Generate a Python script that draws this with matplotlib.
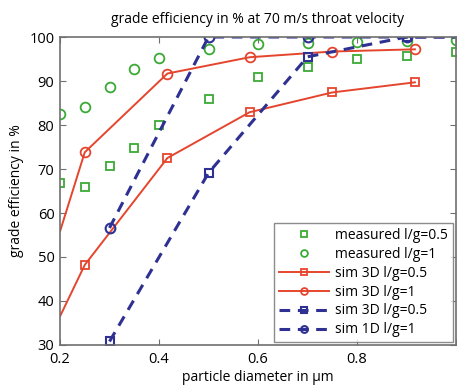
import matplotlib
matplotlib.use("Agg")
import matplotlib.pyplot as plt

plt.rcParams['font.family'] = ['Open Sans', 'DejaVu Sans']

# measured data
x_meas = [0.2, 0.25, 0.3, 0.35, 0.4, 0.5, 0.6, 0.7, 0.8, 0.9, 1.0]
meas_lg05 = [66.8, 65.8, 70.6, 74.8, 79.9, 85.9, 90.8, 93.1, 94.9, 95.6, 96.6]
meas_lg1 = [82.6, 84.0, 88.7, 92.8, 95.2, 97.2, 98.3, 98.7, 98.8, 99.2, 99.3]

# sim 3D (first point is the value where the line enters the axes at x=0.2)
x_sim3d = [0.2, 0.25, 0.417, 0.583, 0.75, 0.917]
sim3d_lg05 = [36.5, 48.2, 72.5, 82.9, 87.4, 89.7]
sim3d_lg1 = [55.8, 73.8, 91.7, 95.4, 96.7, 97.2]

# dashed simulations (last point is where the line leaves the axes at x=1.0)
x_dash = [0.3, 0.5, 0.7, 0.9, 1.0]
dash_lg05 = [30.8, 69.1, 95.5, 100.0, 100.0]
dash_lg1 = [56.6, 100.0, 100.0, 100.0, 100.0]

labels = ['measured l/g=0.5', 'measured l/g=1', 'sim 3D l/g=0.5',
          'sim 3D l/g=1', 'sim 3D l/g=0.5', 'sim 1D l/g=1']

green = '#3aaa35'
red = '#e5452d'
blue = '#2e3192'

fig = plt.figure(figsize=(4.57, 3.9), dpi=100)
ax = fig.add_axes([60/457, 1-345/390, 396/457, (345-37)/390])

ax.plot(x_meas, meas_lg05, 's', mfc='none', mec=green, mew=1.3, ms=6, ls='none', label=labels[0])
ax.plot(x_meas, meas_lg1, 'o', mfc='none', mec=green, mew=1.3, ms=7, ls='none', label=labels[1])
ax.plot(x_sim3d, sim3d_lg05, '-s', color=red, mfc='none', mec=red, mew=1.3, ms=6, lw=1.4,
        markevery=list(range(1, len(x_sim3d))), label=labels[2])
ax.plot(x_sim3d, sim3d_lg1, '-o', color=red, mfc='none', mec=red, mew=1.3, ms=7, lw=1.4,
        markevery=list(range(1, len(x_sim3d))), label=labels[3])
ax.plot(x_dash, dash_lg05, '--s', color=blue, mfc='none', mec=blue, mew=1.5, ms=6, lw=2.2,
        dashes=(3.5, 2.5), markevery=list(range(0, len(x_dash)-1)), label=labels[4])
ax.plot(x_dash, dash_lg1, '--o', color=blue, mfc='none', mec=blue, mew=1.5, ms=7, lw=2.2,
        dashes=(3.5, 2.5), markevery=list(range(0, len(x_dash)-1)), label=labels[5])

ax.set_xlim(0.2, 1.0)
ax.set_ylim(30, 100)
ax.set_xticks([0.2, 0.4, 0.6, 0.8, 1.0])
ax.set_xticklabels(['0.2', '0.4', '0.6', '0.8', ''])
ax.set_yticks([30, 40, 50, 60, 70, 80, 90, 100])
for s in ax.spines.values():
    s.set_color('#707070')
    s.set_linewidth(1.2)
ax.tick_params(direction='in', top=True, right=True, length=4, color='#707070',
               labelsize=10.5)
ax.tick_params(axis='x', pad=5)
ax.tick_params(axis='y', pad=4)

ax.set_title('grade efficiency in % at 70 m/s throat velocity', fontsize=10, pad=10)
ax.set_xlabel('particle diameter in µm', fontsize=10, labelpad=2)
ax.set_ylabel('grade efficiency in %', fontsize=10, labelpad=4)

leg = ax.legend(loc='lower right', fontsize=10, frameon=True, fancybox=False,
                edgecolor='#707070', handlelength=3.6, borderpad=0.35, labelspacing=0.28,
                handletextpad=0.5, borderaxespad=0.2, markerscale=0.7)
leg.get_frame().set_linewidth(1.0)

fig.savefig('out.png', dpi=100)
